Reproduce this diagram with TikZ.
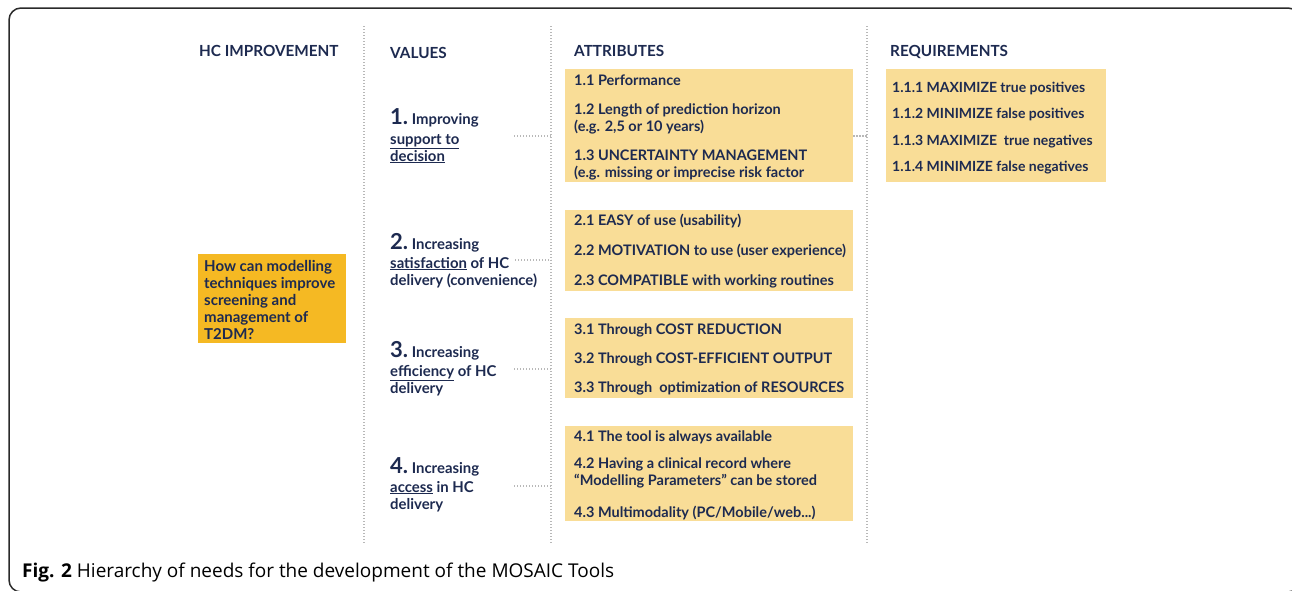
\documentclass[tikz,border=0pt]{standalone}
\usepackage{fontspec}
\setmainfont{Lato}
\newfontfamily\capfont{Open Sans}
\definecolor{navy}{HTML}{1D2A50}
\definecolor{boxlight}{HTML}{F9DD97}
\definecolor{boxdark}{HTML}{F5B923}
\definecolor{sepgray}{HTML}{B8B8B8}
\definecolor{framegray}{HTML}{2A2A2A}
\begin{document}
\begin{tikzpicture}[x=1pt,y=-1pt,
  txt/.style={anchor=base west, inner sep=0pt, text=navy, font=\bfseries\fontsize{14.5}{16}\selectfont},
  qtxt/.style={anchor=base west, inner sep=0pt, text=navy, font=\bfseries\fontsize{15}{16}\selectfont},
  rtxt/.style={anchor=base west, inner sep=0pt, text=navy, font=\bfseries\fontsize{14}{16}\selectfont},
  hdr/.style={anchor=base west, inner sep=0pt, text=navy, font=\bfseries\fontsize{15.3}{18}\selectfont},
  val/.style={anchor=base west, inner sep=0pt, text=navy, font=\bfseries\fontsize{14.9}{17}\selectfont},
  attrbox/.style={anchor=north west, fill=boxlight, inner sep=0pt, draw=none},
  qbox/.style={anchor=north west, fill=boxdark, inner sep=0pt, draw=none},
  sepline/.style={draw=sepgray, line width=1.3pt, dash pattern=on 1.3pt off 1.7pt},
  conn/.style={draw=sepgray, line width=1.3pt, dash pattern=on 1.3pt off 1.7pt},
  frameline/.style={draw=framegray, line width=1.5pt, rounded corners=12pt}
]
\useasboundingbox (0,0) rectangle (1292,590);
\fill[white] (0,0) rectangle (1292,590);
\begin{scope}
\clip (0,0) rectangle (1292,590);
\draw[frameline] (9,8) rectangle (1300,592);
\end{scope}

% separators
\coordinate (s1t) at (364,26); \coordinate (s1b) at (364,544);
\coordinate (s2t) at (551,26); \coordinate (s2b) at (551,544);
\coordinate (s3t) at (867,26); \coordinate (s3b) at (867,544);
\draw[sepline] (s1t) -- (s1b);
\draw[sepline] (s2t) -- (s2b);
\draw[sepline] (s3t) -- (s3b);

% headers
\node[hdr] (h1) at (199,56) {HC IMPROVEMENT};
\node[hdr] (h2) at (390,58) {VALUES};
\node[hdr] (h3) at (574,56) {ATTRIBUTES};
\node[hdr] (h4) at (890,56) {REQUIREMENTS};

% question box
\node[qbox, minimum width=148pt, minimum height=89pt] (q) at (198,254) {};
\node[qtxt] (q1) at (204,271) {How can modelling};
\node[qtxt] (q2) at (204,288) {techniques improve};
\node[qtxt] (q3) at (204,305) {screening and};
\node[qtxt] (q4) at (204,322) {management of};
\node[qtxt] (q5) at (204,339) {T2DM?};

% values
\node[val] (v1a) at (390,124) {{\fontsize{22}{24}\selectfont 1.}\ Improving};
\node[val] (v1b) at (390,144) {\underline{support to}};
\node[val] (v1c) at (390,161) {\underline{decision}};
\node[val] (v2a) at (390,249) {{\fontsize{22}{24}\selectfont 2.}\ Increasing};
\node[val] (v2b) at (390,268) {\underline{satisfaction} of HC};
\node[val] (v2c) at (390,285) {delivery (convenience)};
\node[val] (v3a) at (390,357) {{\fontsize{22}{24}\selectfont 3.}\ Increasing};
\node[val] (v3b) at (390,376) {\underline{efficiency} of HC};
\node[val] (v3c) at (390,393) {delivery};
\node[val] (v4a) at (390,473) {{\fontsize{22}{24}\selectfont 4.}\ Increasing};
\node[val] (v4b) at (390,492) {\underline{access} in HC};
\node[val] (v4c) at (390,509) {delivery};

% attribute boxes
\node[attrbox, minimum width=288pt, minimum height=113pt] (a1) at (565,69) {};
\node[attrbox, minimum width=288pt, minimum height=81pt] (a2) at (565,210) {};
\node[attrbox, minimum width=288pt, minimum height=80pt] (a3) at (565,318) {};
\node[attrbox, minimum width=288pt, minimum height=95pt] (a4) at (565,426) {};

\node[txt] (t11) at (574,85) {1.1 Performance};
\node[txt] (t12) at (574,114) {1.2 Length of prediction horizon};
\node[txt] (t12b) at (574,131) {(e.g. 2,5 or 10 years)};
\node[txt] (t13) at (574,160) {1.3 UNCERTAINTY MANAGEMENT};
\node[txt] (t13b) at (574,177) {(e.g. missing or imprecise risk factor};
\node[txt] (t21) at (574,225) {2.1 EASY of use (usability)};
\node[txt] (t22) at (574,255) {2.2 MOTIVATION to use (user experience)};
\node[txt] (t23) at (574,285) {2.3 COMPATIBLE with working routines};
\node[txt] (t31) at (574,334) {3.1 Through COST REDUCTION};
\node[txt] (t32) at (574,363) {3.2 Through COST-EFFICIENT OUTPUT};
\node[txt] (t33) at (574,392) {3.3 Through\ \ optimization of RESOURCES};
\node[txt] (t41) at (574,441) {4.1 The tool is always available};
\node[txt] (t42) at (574,468) {4.2 Having a clinical record where};
\node[txt] (t42b) at (574,485) {“Modelling Parameters” can be stored};
\node[txt] (t43) at (574,517) {4.3 Multimodality (PC/Mobile/web...)};

% requirements box
\node[attrbox, minimum width=220pt, minimum height=113pt] (r1) at (886,69) {};
\node[rtxt] (r11) at (892,92) {1.1.1 MAXIMIZE true positives};
\node[rtxt] (r12) at (892,118) {1.1.2 MINIMIZE false positives};
\node[rtxt] (r13) at (892,145) {1.1.3 MAXIMIZE\ \ true negatives};
\node[rtxt] (r14) at (892,171) {1.1.4 MINIMIZE false negatives};

% connectors
\coordinate (c1) at (514,136); \coordinate (d1) at (551,136);
\coordinate (c2) at (515,260); \coordinate (d2) at (551,260);
\coordinate (c3) at (514,369); \coordinate (d3) at (551,369);
\coordinate (c4) at (514,486); \coordinate (d4) at (551,486);
\draw[conn] (c1) -- (d1);
\draw[conn] (c2) -- (d2);
\draw[conn] (c3) -- (d3);
\draw[conn] (c4) -- (d4);
\coordinate (e1) at (867,136);
\draw[conn] (a1.east |- e1) -- (e1);

% caption
\node[anchor=base west, inner sep=0pt, text=black, font=\capfont\fontsize{19}{22}\selectfont] (cap) at (22,577) {\textbf{Fig. 2} Hierarchy of needs for the development of the MOSAIC Tools};
\end{tikzpicture}
\end{document}
